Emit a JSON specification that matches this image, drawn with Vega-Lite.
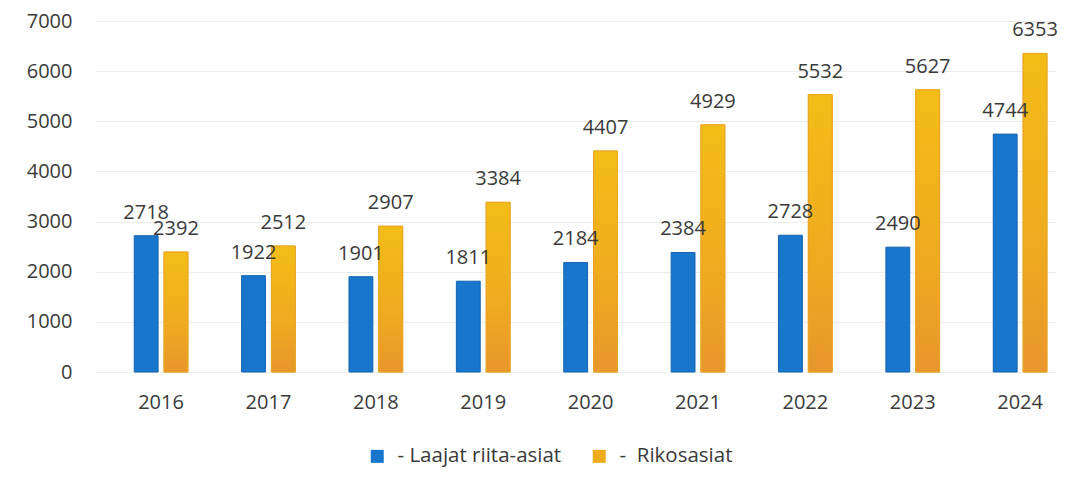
{
  "$schema": "https://vega.github.io/schema/vega-lite/v6.json",
  "width": 960,
  "height": 351,
  "autosize": "none",
  "padding": {"left": 95, "top": 21, "right": 33, "bottom": 120},
  "background": "white",
  "config": {
    "view": {"stroke": null},
    "font": "Open Sans",
    "axis": {"labelFont": "Open Sans", "labelColor": "#3a3a3a", "labelFontSize": 20},
    "legend": {"labelFont": "Open Sans", "labelColor": "#3a3a3a", "labelFontSize": 20.5, "labelLimit": 400}
  },
  "data": {
    "values": [
      {"year": "2016", "series": "- Laajat riita-asiat", "value": 2718},
      {"year": "2016", "series": "-\u00a0 Rikosasiat", "value": 2392},
      {"year": "2017", "series": "- Laajat riita-asiat", "value": 1922},
      {"year": "2017", "series": "-\u00a0 Rikosasiat", "value": 2512},
      {"year": "2018", "series": "- Laajat riita-asiat", "value": 1901},
      {"year": "2018", "series": "-\u00a0 Rikosasiat", "value": 2907},
      {"year": "2019", "series": "- Laajat riita-asiat", "value": 1811},
      {"year": "2019", "series": "-\u00a0 Rikosasiat", "value": 3384},
      {"year": "2020", "series": "- Laajat riita-asiat", "value": 2184},
      {"year": "2020", "series": "-\u00a0 Rikosasiat", "value": 4407},
      {"year": "2021", "series": "- Laajat riita-asiat", "value": 2384},
      {"year": "2021", "series": "-\u00a0 Rikosasiat", "value": 4929},
      {"year": "2022", "series": "- Laajat riita-asiat", "value": 2728},
      {"year": "2022", "series": "-\u00a0 Rikosasiat", "value": 5532},
      {"year": "2023", "series": "- Laajat riita-asiat", "value": 2490},
      {"year": "2023", "series": "-\u00a0 Rikosasiat", "value": 5627},
      {"year": "2024", "series": "- Laajat riita-asiat", "value": 4744},
      {"year": "2024", "series": "-\u00a0 Rikosasiat", "value": 6353}
    ]
  },
  "encoding": {
    "x": {
      "field": "year", "type": "nominal",
      "scale": {"paddingInner": 0.5, "paddingOuter": 0.22, "align": 0.83},
      "axis": {"title": null, "labelAngle": 0, "domain": false, "ticks": false, "labelDx": -15, "labelPadding": 20, "grid": false}
    },
    "xOffset": {
      "field": "series", "type": "nominal",
      "scale": {"domain": ["- Laajat riita-asiat", "-\u00a0 Rikosasiat"], "paddingInner": 0.2, "paddingOuter": 0}
    },
    "y": {
      "field": "value", "type": "quantitative",
      "scale": {"domain": [0, 7000], "nice": false},
      "axis": {"title": null, "domain": false, "ticks": false, "format": "d", "values": [0, 1000, 2000, 3000, 4000, 5000, 6000, 7000], "labelPadding": 23, "grid": true, "gridColor": "#ececec", "gridWidth": 1}
    }
  },
  "layer": [
    {
      "mark": {"type": "bar", "strokeWidth": 1},
      "encoding": {
        "color": {
          "field": "series", "type": "nominal",
          "scale": {"domain": ["- Laajat riita-asiat", "-\u00a0 Rikosasiat"], "range": ["#1877cc", "#eeac1c"]},
          "legend": {
            "title": null, "orient": "none", "direction": "horizontal",
            "legendX": 272, "legendY": 425, "symbolType": "square", "symbolSize": 169,
            "symbolStrokeWidth": 0, "columnPadding": 27, "labelOffset": 10
          }
        },
        "stroke": {
          "field": "series", "type": "nominal",
          "scale": {"domain": ["- Laajat riita-asiat", "-\u00a0 Rikosasiat"], "range": ["#1565b0", "#e9a526"]},
          "legend": null
        }
      }
    },
    {
      "transform": [{"filter": "datum.series == '-\u00a0 Rikosasiat'"}],
      "mark": {
        "type": "bar",
        "stroke": "#e9a526",
        "strokeWidth": 1,
        "color": {
          "gradient": "linear", "x1": 0, "y1": 0, "x2": 0, "y2": 1,
          "stops": [{"offset": 0, "color": "#f3bd17"}, {"offset": 0.6, "color": "#efaa1f"}, {"offset": 1, "color": "#e8962c"}]
        }
      }
    },
    {
      "mark": {"type": "text", "baseline": "bottom", "dy": -13, "fontSize": 20, "color": "#3a3a3a", "font": "Open Sans"},
      "encoding": {"text": {"field": "value", "type": "quantitative", "format": "d"}}
    }
  ]
}
